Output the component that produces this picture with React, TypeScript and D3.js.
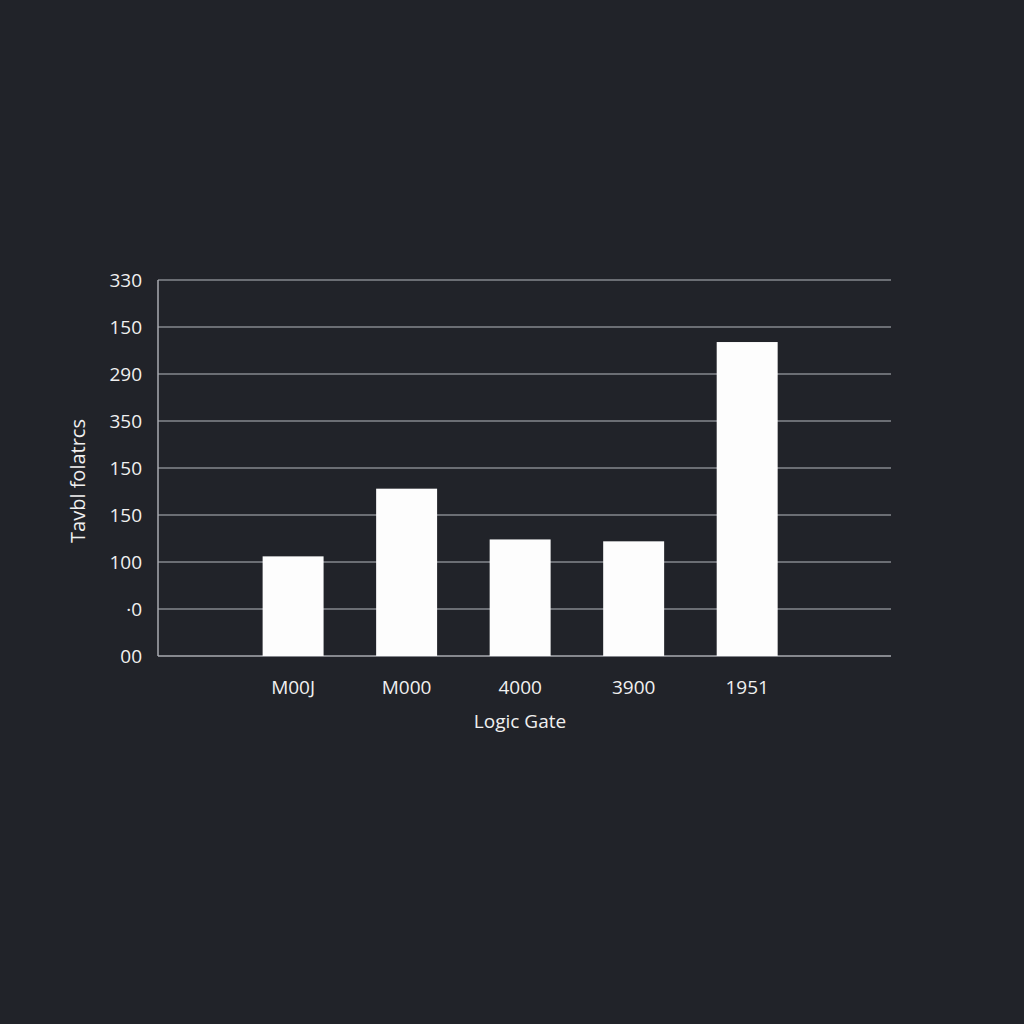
import React from "react";
import * as d3 from "d3";

const categories = ["M00J", "M000", "4000", "3900", "1951"];
const values = [106, 178, 124, 122, 334];
const yTickValues = [0, 50, 100, 150, 200, 250, 300, 350, 400];
const yTickLabels = ["00", "·0", "100", "150", "150", "350", "290", "150", "330"];
const xTitle = "Logic Gate";
const yTitle = "Tavbl folatrcs";

export default function App() {
  const W = 1024, H = 1024;
  const left = 158, right = 891, top = 280, bottom = 656;
  const x = d3.scaleBand<string>().domain(categories).range([left, right]).paddingInner(0.463).paddingOuter(0.96).align(0.48);
  const y = d3.scaleLinear().domain([0, 400]).range([bottom, top]);
  const font = "'Open Sans', 'Noto Sans', sans-serif";
  return (
    <div style={{ position: "absolute", left: 0, top: 0 }}>
      <svg width={W} height={H} style={{ display: "block", background: "#212329" }}>
        <rect x={0} y={0} width={W} height={H} fill="#212329" />
        {yTickValues.map((v, i) => (
          <g key={i}>
            <line x1={left} x2={right} y1={y(v)} y2={y(v)} stroke={i === 0 ? "#a9abb0" : "#85888e"} strokeWidth={1.5} />
            <text x={142} y={y(v)} dy="0.35em" textAnchor="end" fill="#f0f0f0" fontSize={19} fontFamily={font}>{yTickLabels[i]}</text>
          </g>
        ))}
        <line x1={left} x2={left} y1={top} y2={bottom} stroke="#a9abb0" strokeWidth={1.5} />
        {categories.map((c, i) => (
          <g key={c}>
            <rect x={x(c)} y={y(values[i])} width={x.bandwidth()} height={bottom - y(values[i])} fill="#fdfdfd" />
            <text x={(x(c) as number) + x.bandwidth() / 2} y={687} dy="0.35em" textAnchor="middle" fill="#f0f0f0" fontSize={19} fontFamily={font}>{c}</text>
          </g>
        ))}
        <text x={520} y={721} dy="0.35em" textAnchor="middle" fill="#f0f0f0" fontSize={19} fontFamily={font}>{xTitle}</text>
        <text transform={`translate(78,481) rotate(-90)`} dy="0.35em" textAnchor="middle" fill="#f0f0f0" fontSize={20} fontFamily={font}>{yTitle}</text>
      </svg>
    </div>
  );
}
